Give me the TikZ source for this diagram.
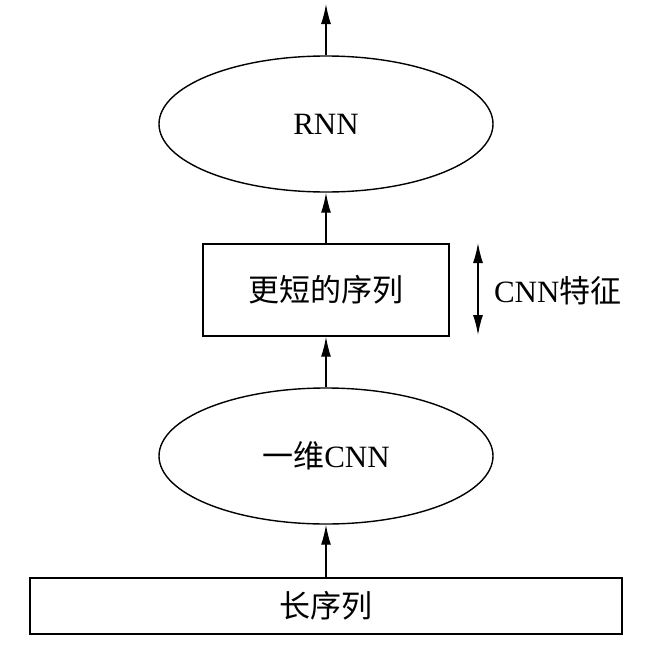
\documentclass[tikz,border=0pt]{standalone}
\usepackage{fontspec}
\setmainfont{Liberation Serif}
\newfontfamily\cjk{Noto Sans CJK SC}
\usetikzlibrary{arrows.meta,shapes.geometric}

\tikzset{
  oval/.style={draw,ellipse,inner sep=0pt,minimum width=334pt,minimum height=136pt},
  box/.style={draw,rectangle,inner sep=0pt},
  flow/.style={-{Latex[length=20pt,width=10pt]}},
}

\begin{document}
\begin{tikzpicture}[x=1pt,y=-1pt,line width=1.4pt,font=\fontsize{31}{36}\selectfont]
\useasboundingbox (0,0) rectangle (650,653);

\node[box,minimum width=592pt,minimum height=56pt] (long) at (326,606) {\cjk 长序列};
\node[oval] (conv) at (326,456) {\cjk 一维\rmfamily CNN};
\node[box,minimum width=246pt,minimum height=92pt] (short) at (326,290) {\cjk 更短的序列};
\node[oval] (rnn) at (326,124) {RNN};
\coordinate (out) at (326,4);

\draw[flow] (long) -- (conv);
\draw[flow] (conv) -- (short);
\draw[flow] (short) -- (rnn);
\draw[flow] (rnn) -- (out);

% CNN features span
\coordinate (ftop) at (478,243);
\coordinate (fbot) at (478,335);
\draw[{Latex[length=20pt,width=10pt]}-{Latex[length=20pt,width=10pt]}] (ftop) -- (fbot);
\node[anchor=west] (feat) at (490,291) {CNN{\cjk 特征}};

\end{tikzpicture}
\end{document}
